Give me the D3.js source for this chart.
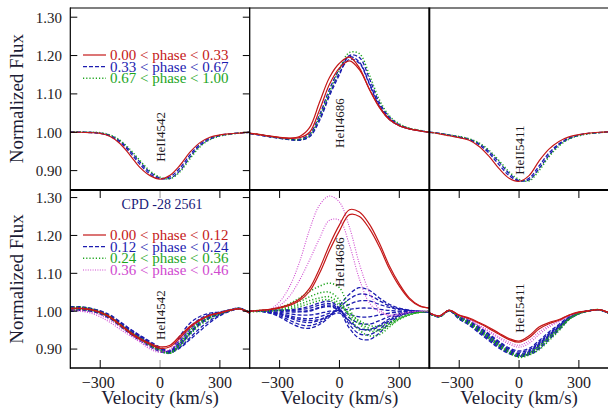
<!DOCTYPE html>
<html><head><meta charset="utf-8">
<script src="https://cdn.jsdelivr.net/npm/d3@7"></script>
<style>body{margin:0;background:#fff}svg{display:block}</style>
</head><body>
<svg id="chart" width="608" height="413"></svg>
<script>
// ---------------- DATA ----------------
const velocity = [-450,-400,-350,-300,-250,-200,-150,-100,-50,0,50,100,150,200,250,300,350,400,450];
const fluxTicks = [0.90,1.00,1.10,1.20,1.30];
const velTicks = [-300,0,300];
const lineNames = ["HeII4542","HeII4686","HeII5411"];
const starName = "CPD -28 2561";
const topLegend = ["0.00 < phase < 0.33","0.33 < phase < 0.67","0.67 < phase < 1.00"];
const bottomLegend = ["0.00 < phase < 0.12","0.12 < phase < 0.24","0.24 < phase < 0.36","0.36 < phase < 0.46"];

// Top row, HeII4542
const tlRed = [[1.000,1.000,0.999,0.997,0.989,0.970,0.940,0.908,0.887,0.878,0.888,0.914,0.948,0.973,0.987,0.993,0.996,0.998,1.000]];
const tlBlue = [
 [1.000,1.000,1.000,0.998,0.992,0.977,0.952,0.922,0.896,0.881,0.880,0.900,0.935,0.965,0.982,0.991,0.995,0.998,1.000],
 [1.000,1.000,0.999,0.997,0.990,0.974,0.947,0.916,0.891,0.879,0.884,0.907,0.941,0.969,0.985,0.992,0.996,0.998,1.000]];
const tlGreen = [[1.000,1.001,1.000,0.999,0.993,0.979,0.955,0.926,0.899,0.883,0.879,0.897,0.931,0.962,0.981,0.990,0.995,0.998,1.000]];

// Top row, HeII4686
const tmRed = [
 [0.997,0.994,0.990,0.987,0.985,0.989,1.012,1.078,1.143,1.180,1.196,1.168,1.112,1.066,1.034,1.017,1.009,1.004,1.000],
 [0.997,0.994,0.990,0.986,0.984,0.986,1.000,1.058,1.125,1.168,1.186,1.163,1.112,1.065,1.033,1.017,1.009,1.004,1.000]];
const tmBlue = [
 [0.997,0.993,0.989,0.985,0.982,0.982,0.995,1.045,1.112,1.165,1.197,1.183,1.128,1.072,1.037,1.018,1.009,1.004,1.000],
 [0.997,0.993,0.989,0.985,0.981,0.980,0.990,1.035,1.100,1.155,1.190,1.180,1.125,1.068,1.034,1.017,1.009,1.004,1.000],
 [0.997,0.993,0.988,0.984,0.981,0.979,0.988,1.030,1.095,1.150,1.200,1.195,1.140,1.078,1.040,1.020,1.010,1.004,1.000]];
const tmGreen = [[0.997,0.994,0.989,0.985,0.982,0.981,0.992,1.040,1.105,1.165,1.208,1.205,1.150,1.085,1.043,1.022,1.011,1.005,1.000]];

// Top row, HeII5411
const trRed = [[1.000,0.996,0.991,0.986,0.979,0.963,0.937,0.905,0.880,0.872,0.887,0.925,0.956,0.976,0.988,0.994,0.998,1.000,1.001]];
const trBlue = [
 [1.000,0.997,0.993,0.988,0.982,0.970,0.950,0.922,0.893,0.874,0.876,0.905,0.940,0.967,0.983,0.992,0.997,0.999,1.001],
 [1.000,0.997,0.992,0.987,0.981,0.967,0.945,0.915,0.887,0.873,0.880,0.912,0.946,0.970,0.985,0.993,0.997,0.999,1.001]];
const trGreen = [[1.000,0.997,0.993,0.989,0.983,0.972,0.953,0.926,0.897,0.877,0.873,0.900,0.936,0.964,0.982,0.991,0.996,0.999,1.001]];

// Bottom row, HeII4542
const blRed = [
 [1.008,1.008,1.005,0.998,0.985,0.965,0.945,0.928,0.915,0.906,0.910,0.935,0.960,0.978,0.990,0.996,1.003,1.006,0.995],
 [1.006,1.007,1.004,0.996,0.983,0.963,0.942,0.925,0.912,0.902,0.906,0.930,0.957,0.976,0.989,0.995,1.002,1.006,0.995]];
const blBlue = [
 [1.012,1.012,1.008,1.000,0.988,0.968,0.948,0.932,0.915,0.900,0.892,0.915,0.945,0.970,0.985,0.994,1.002,1.007,0.996],
 [1.010,1.010,1.006,0.998,0.985,0.965,0.945,0.928,0.910,0.896,0.890,0.910,0.940,0.965,0.982,0.993,1.002,1.007,0.996],
 [1.005,1.006,1.003,0.996,0.984,0.966,0.948,0.933,0.915,0.900,0.895,0.925,0.958,0.980,0.992,0.997,1.003,1.007,0.995],
 [1.000,1.002,1.000,0.994,0.982,0.963,0.944,0.927,0.910,0.895,0.893,0.935,0.968,0.986,0.995,0.998,1.004,1.008,0.995],
 [1.008,1.009,1.006,0.999,0.987,0.970,0.952,0.936,0.920,0.905,0.895,0.905,0.930,0.955,0.975,0.990,1.001,1.006,0.996],
 [1.003,1.004,1.001,0.993,0.980,0.960,0.940,0.922,0.906,0.893,0.890,0.903,0.925,0.948,0.970,0.988,1.000,1.006,0.995],
 [1.011,1.010,1.007,1.001,0.990,0.972,0.953,0.935,0.917,0.902,0.893,0.912,0.942,0.968,0.984,0.994,1.002,1.007,0.996],
 [1.001,1.003,1.001,0.995,0.983,0.964,0.945,0.929,0.912,0.897,0.892,0.920,0.952,0.975,0.988,0.995,1.003,1.007,0.995]];
const blGreen = [
 [1.010,1.011,1.007,0.999,0.986,0.966,0.946,0.930,0.913,0.898,0.889,0.908,0.938,0.963,0.980,0.992,1.002,1.007,0.996],
 [1.006,1.008,1.005,0.997,0.984,0.965,0.945,0.928,0.911,0.897,0.890,0.918,0.950,0.973,0.987,0.995,1.003,1.007,0.995],
 [1.002,1.004,1.002,0.995,0.982,0.962,0.942,0.925,0.909,0.895,0.889,0.912,0.944,0.969,0.985,0.994,1.002,1.007,0.995]];
const blMagenta = [
 [1.002,1.000,0.995,0.985,0.970,0.952,0.935,0.918,0.900,0.891,0.900,0.928,0.958,0.978,0.990,0.996,1.003,1.006,0.995],
 [1.004,1.002,0.998,0.990,0.976,0.958,0.940,0.922,0.905,0.895,0.898,0.924,0.955,0.976,0.989,0.996,1.003,1.006,0.995]];

// Bottom row, HeII4686
const bmRed = [
 [1.000,1.002,1.005,1.010,1.018,1.032,1.060,1.112,1.175,1.228,1.268,1.262,1.230,1.180,1.120,1.072,1.035,1.015,1.008],
 [1.000,1.002,1.004,1.008,1.015,1.028,1.052,1.100,1.160,1.212,1.255,1.250,1.218,1.170,1.112,1.066,1.032,1.014,1.008]];
const bmBlue = [
 [1.000,1.000,0.995,0.985,0.970,0.958,0.955,0.965,0.985,1.015,1.045,1.062,1.055,1.035,1.018,1.008,1.003,1.000,0.998],
 [1.000,1.000,0.996,0.988,0.976,0.965,0.962,0.970,0.988,1.010,1.032,1.045,1.042,1.028,1.014,1.006,1.002,1.000,0.998],
 [1.000,1.000,0.997,0.991,0.982,0.973,0.970,0.976,0.990,1.005,1.018,1.027,1.027,1.018,1.010,1.004,1.001,1.000,0.998],
 [1.000,1.000,0.998,0.994,0.988,0.982,0.980,0.985,0.995,1.002,1.005,1.008,1.008,1.005,1.002,1.000,0.999,0.999,0.998],
 [1.000,1.000,0.999,0.997,0.993,0.990,0.990,0.994,1.000,1.000,0.992,0.985,0.985,0.990,0.995,0.998,0.999,0.999,0.998],
 [1.000,1.001,1.001,1.000,0.998,0.998,1.000,1.008,1.012,1.002,0.982,0.968,0.966,0.975,0.986,0.994,0.998,0.999,0.998],
 [1.000,1.001,1.002,1.002,1.002,1.004,1.008,1.016,1.020,1.005,0.972,0.953,0.952,0.963,0.980,0.991,0.997,0.999,0.998],
 [1.000,1.001,1.002,1.003,1.004,1.007,1.013,1.022,1.026,1.008,0.965,0.940,0.938,0.952,0.974,0.989,0.996,0.999,0.998],
 [1.000,1.001,1.002,1.002,1.001,1.000,1.002,1.010,1.016,1.000,0.955,0.928,0.925,0.942,0.968,0.986,0.995,0.999,0.998],
 [1.000,1.000,0.998,0.993,0.985,0.978,0.975,0.978,0.988,0.995,0.975,0.955,0.950,0.960,0.976,0.989,0.996,0.999,0.998]];
const bmGreen = [
 [1.000,1.002,1.004,1.010,1.020,1.035,1.052,1.066,1.074,1.062,1.005,0.970,0.955,0.951,0.966,0.980,0.990,0.997,1.000],
 [1.000,1.002,1.004,1.008,1.015,1.025,1.038,1.048,1.050,1.030,0.985,0.950,0.935,0.938,0.958,0.978,0.990,0.997,1.000],
 [1.000,1.001,1.003,1.005,1.010,1.018,1.028,1.035,1.038,1.020,0.990,0.965,0.948,0.948,0.962,0.980,0.991,0.997,1.000],
 [0.998,0.999,1.000,1.002,1.006,1.012,1.020,1.028,1.030,1.015,0.995,0.975,0.962,0.960,0.970,0.983,0.992,0.997,1.000]];
const bmMagenta = [
 [1.000,1.002,1.005,1.025,1.065,1.130,1.215,1.280,1.304,1.288,1.222,1.125,1.050,1.005,0.988,0.990,0.997,1.000,1.000],
 [1.000,1.002,1.005,1.015,1.040,1.082,1.135,1.192,1.240,1.240,1.175,1.085,1.022,0.998,0.990,0.993,0.998,1.000,1.000]];

// Bottom row, HeII5411
const brRed = [
 [0.996,0.988,1.003,0.990,0.982,0.970,0.957,0.942,0.928,0.921,0.935,0.958,0.970,0.978,0.990,0.998,1.001,1.004,0.996],
 [0.995,0.987,1.002,0.989,0.980,0.968,0.954,0.939,0.925,0.918,0.930,0.953,0.967,0.976,0.989,0.997,1.001,1.004,0.996]];
const brBlue = [
 [0.994,0.986,1.002,0.985,0.972,0.955,0.935,0.915,0.898,0.888,0.895,0.915,0.938,0.960,0.982,0.995,1.001,1.004,0.995],
 [0.994,0.985,1.001,0.982,0.968,0.948,0.927,0.906,0.890,0.880,0.888,0.908,0.932,0.955,0.980,0.994,1.001,1.004,0.995],
 [0.995,0.987,1.002,0.986,0.975,0.958,0.940,0.920,0.903,0.895,0.902,0.922,0.945,0.965,0.985,0.996,1.001,1.004,0.995],
 [0.994,0.985,1.001,0.980,0.965,0.945,0.925,0.905,0.890,0.882,0.885,0.900,0.925,0.950,0.978,0.993,1.001,1.004,0.995],
 [0.995,0.986,1.002,0.984,0.970,0.952,0.932,0.912,0.895,0.885,0.890,0.910,0.935,0.958,0.981,0.995,1.001,1.004,0.995],
 [0.994,0.986,1.001,0.983,0.968,0.950,0.930,0.910,0.893,0.884,0.893,0.913,0.935,0.957,0.980,0.994,1.001,1.004,0.995],
 [0.995,0.987,1.002,0.985,0.973,0.956,0.937,0.917,0.900,0.892,0.898,0.918,0.941,0.962,0.983,0.995,1.001,1.004,0.995],
 [0.994,0.985,1.001,0.979,0.963,0.942,0.922,0.902,0.888,0.881,0.886,0.903,0.928,0.952,0.979,0.994,1.001,1.004,0.995]];
const brGreen = [
 [0.994,0.985,1.001,0.981,0.966,0.947,0.927,0.907,0.890,0.878,0.884,0.898,0.922,0.948,0.977,0.993,1.001,1.004,0.995],
 [0.994,0.986,1.002,0.983,0.969,0.950,0.930,0.910,0.892,0.880,0.887,0.904,0.928,0.952,0.979,0.994,1.001,1.004,0.995],
 [0.995,0.986,1.002,0.985,0.972,0.954,0.934,0.914,0.896,0.884,0.890,0.908,0.932,0.955,0.980,0.994,1.001,1.004,0.995]];
const brMagenta = [
 [0.995,0.987,1.002,0.988,0.978,0.963,0.948,0.932,0.918,0.910,0.922,0.945,0.962,0.974,0.988,0.997,1.001,1.004,0.996],
 [0.995,0.987,1.002,0.988,0.977,0.961,0.945,0.928,0.913,0.905,0.915,0.938,0.958,0.972,0.987,0.997,1.001,1.004,0.996]];

// ---------------- LAYOUT / STYLE ----------------
const svg = d3.select("#chart");
const colX = [70.3, 249.7, 429.3];
const colW = 179.5;
const rows = [
  {top: 7.6, bottom: 189.8, domain: [0.85, 1.325]},
  {top: 190, bottom: 368, domain: [0.85, 1.32]}
];
const styles = {
  blue:    {stroke: "#1c1cb0", width: 1.3, dash: "4,2"},
  green:   {stroke: "#1ea51e", width: 1.5, dash: "1.2,2"},
  magenta: {stroke: "#d04ad0", width: 1.1, dash: "1,1.4"},
  red:     {stroke: "#c41818", width: 1.2, dash: null}
};
const textColor = "#1e1a22";
const serif = "Liberation Serif, Times New Roman, serif";

const panels = [
  {row:0, col:0, s:{blue:tlBlue, green:tlGreen, red:tlRed}, labelFlux:0.923},
  {row:0, col:1, s:{blue:tmBlue, green:tmGreen, red:tmRed}, labelFlux:0.959},
  {row:0, col:2, s:{blue:trBlue, green:trGreen, red:trRed}, labelFlux:0.889},
  {row:1, col:0, s:{blue:blBlue, green:blGreen, magenta:blMagenta, red:blRed}, labelFlux:0.924},
  {row:1, col:1, s:{blue:bmBlue, green:bmGreen, magenta:bmMagenta, red:bmRed}, labelFlux:1.064},
  {row:1, col:2, s:{blue:brBlue, green:brGreen, magenta:brMagenta, red:brRed}, labelFlux:0.943}
];

const defs = svg.append("defs");

panels.forEach((p, i) => {
  const r = rows[p.row];
  const x = d3.scaleLinear().domain([-450, 450]).range([colX[p.col], colX[p.col] + colW]);
  const y = d3.scaleLinear().domain(r.domain).range([r.bottom, r.top]);
  defs.append("clipPath").attr("id", "clip" + i)
    .append("rect").attr("x", colX[p.col]).attr("y", r.top)
    .attr("width", colW).attr("height", r.bottom - r.top);
  const g = svg.append("g").attr("clip-path", `url(#clip${i})`);
  const line = d3.line().x((d, k) => x(velocity[k])).y(d => y(d)).curve(d3.curveCatmullRom.alpha(0.5));
  ["blue","green","magenta","red"].forEach(key => {
    if (!p.s[key]) return;
    const st = styles[key];
    p.s[key].forEach(arr => {
      g.append("path").attr("d", line(arr)).attr("fill", "none")
        .attr("stroke", st.stroke).attr("stroke-width", st.width)
        .attr("stroke-dasharray", st.dash);
    });
  });
  // line label
  const lx = x(0) + 5, ly = y(p.labelFlux);
  svg.append("text").attr("transform", `translate(${lx},${ly}) rotate(-90)`)
    .attr("font-family", serif).attr("font-size", 13).attr("fill", textColor)
    .text(lineNames[p.col]);

  // ticks
  const tg = svg.append("g").attr("stroke", "#000").attr("stroke-width", 1);
  if (p.col === 0) {
    fluxTicks.forEach(t => {
      const yy = y(t);
      tg.append("line").attr("x1", x.range()[0]).attr("x2", x.range()[0] + 7).attr("y1", yy).attr("y2", yy);
      tg.append("line").attr("x1", x.range()[1] - 7).attr("x2", x.range()[1]).attr("y1", yy).attr("y2", yy);
      svg.append("text").attr("x", 62).attr("y", yy).attr("dy", "0.36em")
        .attr("text-anchor", "end").attr("font-family", serif).attr("font-size", 15)
        .attr("fill", textColor).text(t.toFixed(2));
    });
    svg.append("text")
      .attr("transform", `translate(23,${(r.top + r.bottom) / 2}) rotate(-90)`)
      .attr("text-anchor", "middle").attr("font-family", serif).attr("font-size", 19)
      .attr("fill", "#1c1c34").text("Normalized Flux");
  }
  if (p.row === 1) {
    velTicks.forEach(t => {
      const xx = x(t);
      const c = (p.col === 0 && t === 0) ? "#999" : "#000";
      tg.append("line").attr("x1", xx).attr("x2", xx).attr("y1", r.top).attr("y2", r.top + 8).attr("stroke", c);
      tg.append("line").attr("x1", xx).attr("x2", xx).attr("y1", r.bottom - 8).attr("y2", r.bottom).attr("stroke", c);
      svg.append("text").attr("x", xx + (t < 0 ? -2 : 0)).attr("y", 388)
        .attr("text-anchor", "middle").attr("font-family", serif).attr("font-size", 16)
        .attr("fill", textColor).text(t < 0 ? "\u2212" + Math.abs(t) : String(t));
    });
    svg.append("text").attr("x", colX[p.col] + colW / 2).attr("y", 404)
      .attr("text-anchor", "middle").attr("font-family", serif).attr("font-size", 19)
      .attr("fill", "#1c1c34").text("Velocity (km/s)");
  }
});

// frames
const fr = svg.append("g").attr("stroke", "#000").attr("fill", "none");
fr.append("line").attr("x1", 70).attr("x2", 608).attr("y1", 8).attr("y2", 8).attr("stroke-width", 1.2);
fr.append("line").attr("x1", 70).attr("x2", 608).attr("y1", 190).attr("y2", 190).attr("stroke-width", 2);
fr.append("line").attr("x1", 70).attr("x2", 608).attr("y1", 368).attr("y2", 368).attr("stroke-width", 1.5);
fr.append("line").attr("x1", 70.3).attr("x2", 70.3).attr("y1", 7.5).attr("y2", 368.7).attr("stroke-width", 1.2);
fr.append("line").attr("x1", 249.7).attr("x2", 249.7).attr("y1", 7.5).attr("y2", 368.7).attr("stroke-width", 1.3);
fr.append("line").attr("x1", 429.3).attr("x2", 429.3).attr("y1", 7.5).attr("y2", 368.7).attr("stroke-width", 2);

// legends
function legend(items, colors, yCenters) {
  items.forEach((lab, k) => {
    const st = styles[colors[k]];
    svg.append("line").attr("x1", 83).attr("x2", 106).attr("y1", yCenters[k]).attr("y2", yCenters[k])
      .attr("stroke", st.stroke).attr("stroke-width", st.width).attr("stroke-dasharray", st.dash);
    svg.append("text").attr("x", 110).attr("y", yCenters[k]).attr("dy", "0.34em")
      .attr("font-family", serif).attr("font-size", 15).attr("fill", st.stroke).text(lab);
  });
}
legend(topLegend, ["red","blue","green"], [55, 66.7, 78.3]);
legend(bottomLegend, ["red","blue","green","magenta"], [235, 246.7, 258.3, 270]);
svg.append("text").attr("x", 162).attr("y", 209).attr("text-anchor", "middle")
  .attr("font-family", serif).attr("font-size", 14).attr("fill", "#1a1a78").text(starName);
</script>
</body></html>
